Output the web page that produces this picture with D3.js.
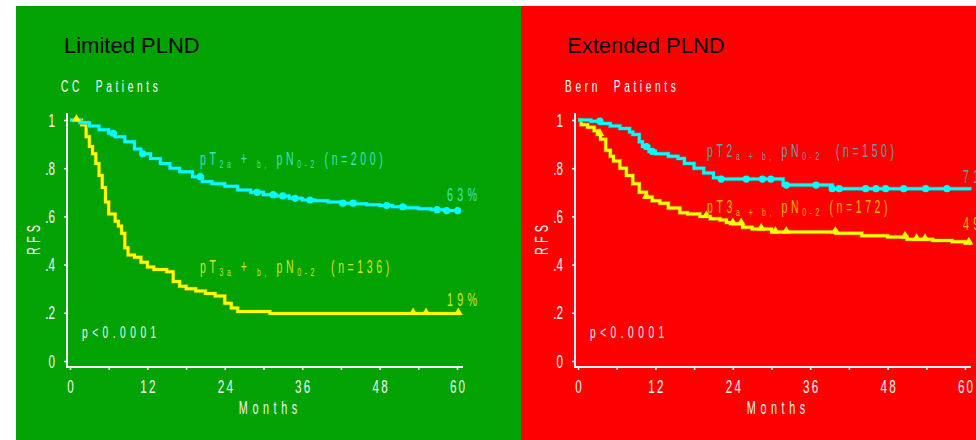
<!DOCTYPE html>
<html>
<head>
<meta charset="utf-8">
<script src="https://cdn.jsdelivr.net/npm/d3@7"></script>
<style>
  body { margin: 0; background: #fff; }
  svg { display: block; }
</style>
</head>
<body>
<div id="chart"></div>
<script>
// ---- data ----
var monthTicks = [0, 6, 12, 18, 24, 30, 36, 42, 48, 54, 60];
var rfsTicks = [0, 0.2, 0.4, 0.6, 0.8, 1];
var rfsTickLabels = ["0", ".2", ".4", ".6", ".8", "1"];

// Limited PLND, CC patients
var ccT2 = [[0,1],[1.5,0.99],[3,0.975],[4.5,0.96],[6,0.945],[7,0.93],[8.5,0.91],[10,0.88],[11,0.86],[12.5,0.84],
  [14,0.82],[15.5,0.80],[17,0.785],[19,0.765],[20.5,0.745],[22,0.735],[24,0.725],[26,0.71],[28,0.70],[30,0.69],
  [32,0.685],[34,0.675],[36,0.668],[38,0.665],[40,0.66],[42,0.655],[44,0.652],[46,0.648],[48,0.645],[50,0.64],
  [52,0.636],[54,0.632],[56,0.628],[58,0.624],[60.5,0.624]];
var ccT2Censored = [6.7, 11.3, 20.2, 29, 31.5, 33, 34.9, 37.2, 42.3, 43.9, 49.1, 51.6, 56.9, 58.4, 60.1];
var ccT3 = [[0,1],[1.8,0.98],[2.5,0.93],[3,0.89],[3.5,0.86],[4,0.82],[4.5,0.77],[5,0.72],[5.5,0.66],[6,0.61],
  [7,0.58],[7.5,0.56],[8,0.53],[8.5,0.47],[9,0.44],[10,0.43],[11,0.41],[12,0.39],[13,0.38],[15,0.37],[16,0.33],
  [17,0.31],[18,0.30],[19.5,0.29],[21,0.28],[22.5,0.27],[24,0.24],[25,0.22],[26,0.205],[31,0.197],[60.5,0.197]];
var ccT3Censored = [1, 53.2, 55.2, 60.2];

// Extended PLND, Bern patients
var bernT2 = [[0,1],[2,0.995],[3.5,0.985],[5,0.975],[6.5,0.965],[8,0.95],[8.5,0.94],[9.5,0.91],[10,0.89],[11,0.87],
  [12,0.86],[14,0.85],[15.5,0.84],[16.5,0.82],[18,0.80],[19.5,0.78],[21,0.76],[22,0.755],[31.8,0.73],[39.4,0.715],
  [61,0.715]];
var bernT2Censored = [3.4, 10.6, 11.5, 22.2, 26.1, 28.6, 29.9, 32.3, 36.9, 39.4, 40.5, 44.6, 46.2, 47.7, 50.5, 53.9, 57.2];
var bernT3 = [[0,1],[0.5,0.98],[1.5,0.97],[2.5,0.955],[3,0.94],[3.5,0.92],[4.3,0.875],[5,0.85],[5.5,0.83],[6.5,0.80],
  [7.5,0.77],[8.5,0.735],[9.5,0.70],[10.6,0.68],[11.5,0.665],[12.7,0.655],[14,0.635],[15.8,0.615],[17,0.61],
  [18.9,0.60],[20.5,0.59],[22,0.585],[23,0.575],[24,0.57],[25.5,0.555],[27,0.548],[30,0.535],[40,0.53],[44,0.52],
  [48,0.515],[51,0.505],[55,0.50],[58,0.495],[60,0.49],[61,0.49]];
var bernT3Censored = [3.4, 10.6, 19.9, 24, 25.3, 28.4, 30.6, 32.3, 39.9, 50.7, 52.5, 53.8, 60.6];

var panels = [
  { bg: "#01a201", x0: 16, x1: 521, title: "Limited PLND", titleX: 64, cohort: "CC  Patients", cohortX: 61,
    ox: 0, t2: ccT2, t2c: ccT2Censored, t3: ccT3, t3c: ccT3Censored,
    t2Label: [["pT",0],["2a",1],[" + ",0],["b,",1],[" pN",0],["0-2",1],[" (n=200)",0]],
    t3Label: [["pT",0],["3a",1],[" + ",0],["b,",1],[" pN",0],["0-2",1],["  (n=136)",0]],
    t2Col: "#40e2c0", t3Col: "#d6e424", t2End: "63%", t3End: "19%",
    t2Pos: [200, 165], t3Pos: [200, 273], t2EndPos: [447, 201], t3EndPos: [447, 306] },
  { bg: "#ff0000", x0: 521, x1: 976, title: "Extended PLND", titleX: 567, cohort: "Bern  Patients", cohortX: 565,
    ox: 508, t2: bernT2, t2c: bernT2Censored, t3: bernT3, t3c: bernT3Censored,
    t2Label: [["pT2",0],["a + b,",1],[" pN",0],["0-2",1],["  (n=150)",0]],
    t3Label: [["pT3",0],["a + b,",1],[" pN",0],["0-2",1],[" (n=172)",0]],
    t2Col: "#62a2aa", t3Col: "#eab800", t2End: "71%", t3End: "49%",
    t2Pos: [707, 157], t3Pos: [707, 213], t2EndPos: [963, 183], t3EndPos: [963, 230] }
];

var W = 976, H = 440;
var SX = 0.6; // narrow lettering of the original slide

var svg = d3.select("#chart").append("svg").attr("width", W).attr("height", H);
svg.append("rect").attr("width", W).attr("height", H).attr("fill", "#fff");

function squeezed(g, x, y, parts, size, ls, col, anchor) {
  var t = g.append("text")
    .attr("transform", "translate(" + x + "," + y + ") scale(" + SX + ",1)")
    .attr("font-family", "'Liberation Sans', Arial, sans-serif")
    .attr("font-size", size)
    .attr("letter-spacing", ls / SX)
    .attr("fill", col)
    .attr("text-anchor", anchor || "start")
    .style("white-space", "pre");
  if (anchor === "middle") t.attr("dx", ls / SX / 2);
  var down = false;
  parts.forEach(function(p) {
    var ts = t.append("tspan").text(p[0]);
    if (p[1] && !down) { ts.attr("dy", 2.5).attr("font-size", size * 0.66); down = true; }
    else if (p[1]) { ts.attr("font-size", size * 0.66); }
    else if (down) { ts.attr("dy", -2.5); down = false; }
  });
  return t;
}

function valueAt(curve, m) {
  var v = curve[0][1];
  curve.forEach(function(p) { if (p[0] <= m) v = p[1]; });
  return v;
}

panels.forEach(function(p) {
  var g = svg.append("g");
  g.append("rect").attr("x", p.x0).attr("y", 6).attr("width", p.x1 - p.x0).attr("height", H - 6).attr("fill", p.bg);

  var x = d3.scaleLinear().domain([0, 60]).range([70 + p.ox, 457 + p.ox]);
  var y = d3.scaleLinear().domain([0, 1]).range([361, 120]);

  g.append("text").attr("x", p.titleX).attr("y", 53)
    .attr("font-family", "'Liberation Sans', Arial, sans-serif").attr("font-size", 22)
    .attr("fill", "#080808").text(p.title);
  squeezed(g, p.cohortX, 92, [[p.cohort, 0]], 17, 3.6, "#fff");

  // axes
  var xAxis = g.append("g").attr("transform", "translate(0,367)")
    .call(d3.axisBottom(x).tickValues(monthTicks).tickSize(3)
      .tickFormat(function(d) { return d % 12 === 0 ? d : ""; }));
  var yAxis = g.append("g").attr("transform", "translate(" + (67 + p.ox) + ",0)")
    .call(d3.axisLeft(y).tickValues(rfsTicks).tickSize(3)
      .tickFormat(function(d, i) { return rfsTickLabels[i]; }));
  [xAxis, yAxis].forEach(function(a) {
    a.select(".domain").remove();
    a.selectAll("line").attr("stroke", "#f4f4f4").attr("stroke-width", 1.5);
    a.selectAll("text").attr("fill", "#f4f4f4").attr("font-size", 18)
      .attr("font-family", "'Liberation Sans', Arial, sans-serif");
  });
  xAxis.selectAll("text").attr("y", null).attr("dy", null)
    .attr("transform", "translate(0,393) scale(0.65,1)".replace("393", 26))
    .attr("letter-spacing", 2.2 / 0.65).attr("dx", 1.1 / 0.65);
  yAxis.selectAll("text").attr("x", null).attr("dy", null)
    .attr("transform", "translate(-12,6) scale(0.65,1)");
  g.append("line").attr("x1", 67 + p.ox).attr("x2", 67 + p.ox).attr("y1", 113).attr("y2", 367)
    .attr("stroke", "#f4f4f4").attr("stroke-width", 2);
  g.append("line").attr("x1", 66 + p.ox).attr("x2", 463 + p.ox).attr("y1", 367).attr("y2", 367)
    .attr("stroke", "#f4f4f4").attr("stroke-width", 2);

  squeezed(g, 268 + p.ox, 414, [["Months", 0]], 18, 4.6, "#f4f4f4", "middle");
  squeezed(g, 0, 0, [["RFS", 0]], 18, 4.2, "#f4f4f4", "middle")
    .attr("transform", "translate(" + (40 + p.ox) + ",240) rotate(-90) scale(" + SX + ",1)");
  squeezed(g, 82 + p.ox, 338, [["p<0.0001", 0]], 17, 4.5, "#f4f4f4");

  // curves
  var line = d3.line().x(function(d) { return x(d[0]); }).y(function(d) { return y(d[1]); })
    .curve(d3.curveStepAfter);
  [[p.t3, "#ffff00", "#8a8a00"], [p.t2, "#00ffff", "#2f8f8f"]].forEach(function(c) {
    g.append("path").datum(c[0]).attr("d", line).attr("fill", "none")
      .attr("stroke", c[2]).attr("stroke-width", 4.5).attr("stroke-opacity", 0.6);
    g.append("path").datum(c[0]).attr("d", line).attr("fill", "none")
      .attr("stroke", c[1]).attr("stroke-width", 3);
  });

  g.selectAll(".c2").data(p.t2c).enter().append("circle")
    .attr("cx", function(d) { return x(d); })
    .attr("cy", function(d) { return y(valueAt(p.t2, d)); })
    .attr("r", 3.6).attr("fill", "#00ffff");
  var tri = d3.symbol().type(d3.symbolTriangle).size(34);
  g.selectAll(".c3").data(p.t3c).enter().append("path").attr("d", tri)
    .attr("transform", function(d) { return "translate(" + x(d) + "," + (y(valueAt(p.t3, d)) - 1) + ")"; })
    .attr("fill", "#ffff00");

  // labels
  squeezed(g, p.t2Pos[0], p.t2Pos[1], p.t2Label, 17.5, 3.6, p.t2Col);
  squeezed(g, p.t3Pos[0], p.t3Pos[1], p.t3Label, 17.5, 3.6, p.t3Col);
  squeezed(g, p.t2EndPos[0], p.t2EndPos[1], [[p.t2End, 0]], 18, 4.2, p.t2Col);
  squeezed(g, p.t3EndPos[0], p.t3EndPos[1], [[p.t3End, 0]], 18, 4.2, p.t3Col);
});
</script>
</body>
</html>
